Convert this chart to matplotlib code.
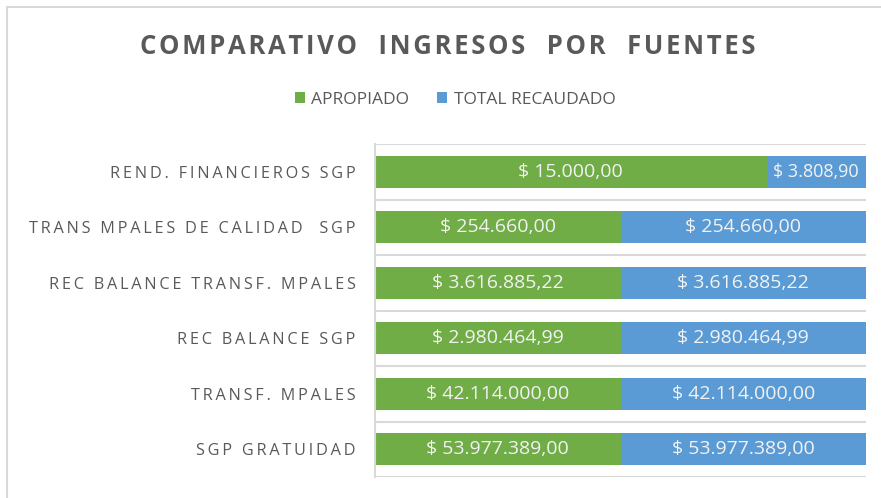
import matplotlib.pyplot as plt
import numpy as np
from matplotlib.patches import Rectangle

# datos
categorias = ['REND. FINANCIEROS SGP', 'TRANS MPALES DE CALIDAD  SGP', 'REC BALANCE TRANSF. MPALES',
              'REC BALANCE SGP', 'TRANSF. MPALES', 'SGP GRATUIDAD']
apropiado = [15000.00, 254660.00, 3616885.22, 2980464.99, 42114000.00, 53977389.00]
recaudado = [3808.90, 254660.00, 3616885.22, 2980464.99, 42114000.00, 53977389.00]
series = ['APROPIADO', 'TOTAL RECAUDADO']
titulo = 'COMPARATIVO  INGRESOS  POR  FUENTES'

verde = '#70AD47'
azul = '#5B9BD5'
gris_txt = '#595959'
gris_linea = '#D9D9D9'

plt.rcParams['font.family'] = ['Open Sans', 'DejaVu Sans']


def pesos(v):
    s = f'{v:,.2f}'
    s = s.replace(',', 'X').replace('.', ',').replace('X', '.')
    return '$ ' + s


def espaciar(t, sep='\u2009'):
    return sep.join(t)


ap = np.array(apropiado)
re = np.array(recaudado)
tot = ap + re
f_ap = ap / tot
f_re = re / tot
y = np.arange(len(categorias))

fig = plt.figure(figsize=(8.81, 4.98), dpi=100)
ax = fig.add_axes([375 / 881, 1 - 477 / 498, (866 - 375) / 881, (477 - 144) / 498])

ax.barh(y, f_ap, height=0.57, color=verde, label=series[0])
ax.barh(y, f_re, left=f_ap, height=0.57, color=azul, label=series[1])

for i in range(len(y)):
    ax.text(f_ap[i] / 2, y[i], pesos(ap[i]), ha='center', va='center',
            color='#F2F2F2', fontsize=14)
    ax.text(f_ap[i] + f_re[i] / 2, y[i], pesos(re[i]), ha='center', va='center',
            color='#F2F2F2', fontsize=14 if f_re[i] > 0.3 else 13)

ax.set_xlim(0, 1)
ax.set_ylim(len(y) - 0.5, -0.5)
ax.set_xticks([])
ax.set_yticks(y)
ax.set_yticklabels([espaciar(c) for c in categorias], color=gris_txt, fontsize=11.7)
ax.tick_params(axis='y', length=0, pad=14)
ax.set_yticks(np.arange(-0.5, len(y)), minor=True)
ax.tick_params(axis='y', which='minor', length=0)
ax.grid(True, which='minor', axis='y', color=gris_linea, lw=1.5)
ax.set_axisbelow(True)
for s in ['top', 'right', 'bottom']:
    ax.spines[s].set_visible(False)
ax.spines['left'].set_color(gris_linea)
ax.spines['left'].set_linewidth(1.5)

fig.text(448 / 881, 1 - 46 / 498, espaciar(titulo, '\u200a'), ha='center', va='center',
         fontsize=18.5, fontweight='bold', color=gris_txt)

fig.legend(loc='center', bbox_to_anchor=(455 / 881, 1 - 100 / 498), ncol=2, frameon=False,
           fontsize=12.5, labelcolor=gris_txt, handlelength=0.6, handleheight=0.6,
           handletextpad=0.35, columnspacing=1.6)

# marco del grafico
fig.patches.append(Rectangle((7 / 881, -0.1), 1.2, 1.1 - 7 / 498, transform=fig.transFigure,
                             fill=False, edgecolor=gris_linea, lw=1.5))

fig.savefig('out.png', dpi=100)
